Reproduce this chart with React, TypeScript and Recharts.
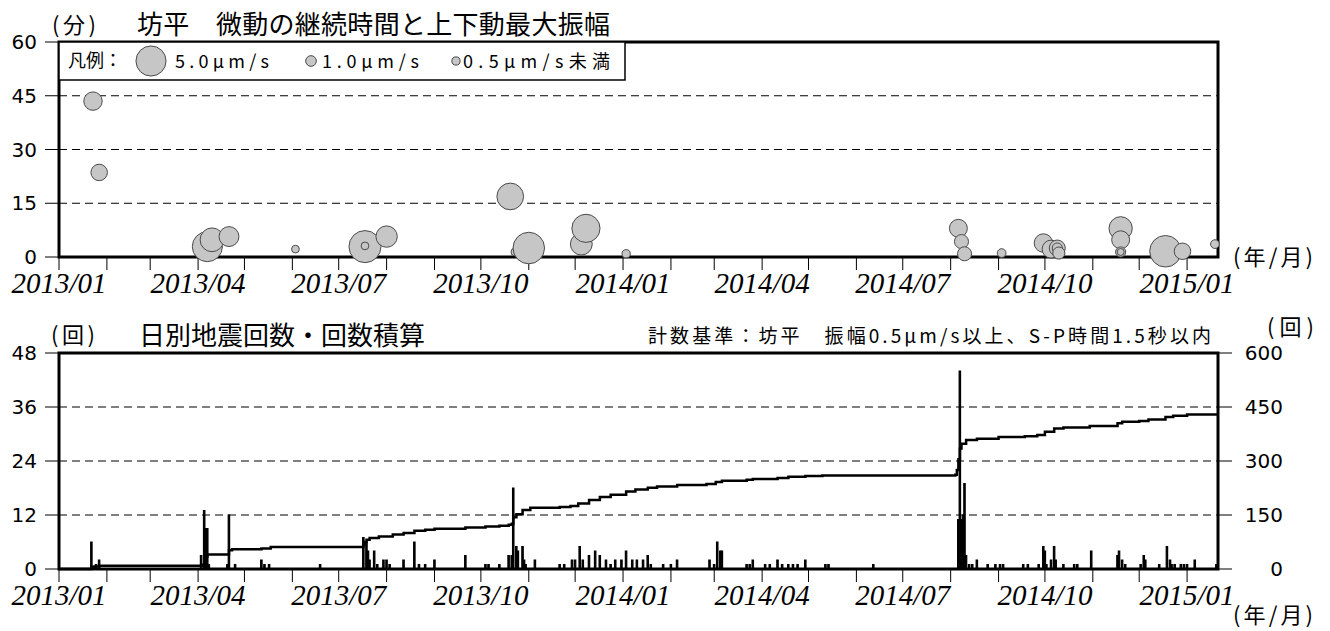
import React from 'react';
import {
  ScatterChart,
  Scatter,
  ComposedChart,
  Bar,
  Line,
  XAxis,
  YAxis,
  CartesianGrid,
  ReferenceArea,
} from 'recharts';

// ---------- axis labels ----------
const MONTH_LABELS = [
  '2013/01', '2013/02', '2013/03', '2013/04', '2013/05', '2013/06', '2013/07', '2013/08', '2013/09',
  '2013/10', '2013/11', '2013/12', '2014/01', '2014/02', '2014/03', '2014/04', '2014/05', '2014/06',
  '2014/07', '2014/08', '2014/09', '2014/10', '2014/11', '2014/12', '2015/01',
];
const LABELLED_MONTHS = ['01', '04', '07', '10'];
const X_START = '2013-01-01';
const X_END = '2015-01-21';
const DURATION_TICKS = [0, 15, 30, 45, 60];
const COUNT_TICKS = [0, 12, 24, 36, 48];
const CUM_TICKS = [0, 150, 300, 450, 600];

// ---------- tremor (top panel) ----------
const TREMOR_DATES = [
  '2013-01-23', '2013-01-27', '2013-04-07', '2013-04-10', '2013-04-21', '2013-06-03', '2013-07-18',
  '2013-07-18', '2013-08-01', '2013-10-20', '2013-10-23', '2013-11-01', '2013-12-05', '2013-12-08',
  '2014-01-03', '2014-08-06', '2014-08-08', '2014-08-10', '2014-09-03', '2014-09-30', '2014-10-05',
  '2014-10-09', '2014-10-09', '2014-10-10', '2014-11-19', '2014-11-19', '2014-11-19', '2014-11-19',
  '2014-12-18', '2014-12-29', '2015-01-19',
];
const TREMOR_MINUTES = [
  43.5, 23.6, 2.9, 4.8, 5.7, 2.2, 2.9,
  3.1, 5.7, 16.9, 1.4, 2.5, 3.6, 8.0,
  0.9, 8.0, 4.3, 0.9, 1.1, 3.9, 2.2,
  2.5, 2.5, 1.1, 8.0, 4.8, 1.4, 1.4,
  1.6, 1.6, 3.6,
];
const TREMOR_AMPLITUDES = [
  2.6, 2.2, 5.0, 3.7, 2.9, 0.4, 5.4,
  0.4, 3.2, 4.3, 0.4, 5.3, 3.3, 4.6,
  0.5, 2.5, 1.7, 1.7, 0.6, 2.6, 2.5,
  2.1, 0.9, 1.3, 3.6, 2.5, 0.9, 0.25,
  5.3, 2.2, 0.6,
];
const LEGEND_AMPLITUDES = [5.0, 1.0, 0.5];
const LEGEND_LABELS = ['5.0μm/s', '1.0μm/s', '0.5μm/s未満'];

// ---------- daily counts (bottom panel, bars) ----------
const COUNT_DATES = [
  '2013-01-22', '2013-01-25', '2013-01-27', '2013-04-03', '2013-04-05', '2013-04-06', '2013-04-07',
  '2013-04-08', '2013-04-20', '2013-04-21', '2013-04-25', '2013-05-12', '2013-05-14', '2013-05-17',
  '2013-06-19', '2013-07-17', '2013-07-19', '2013-07-20', '2013-07-21', '2013-07-24', '2013-07-26',
  '2013-07-30', '2013-08-01', '2013-08-03', '2013-08-12', '2013-08-19', '2013-08-22', '2013-08-26',
  '2013-09-01', '2013-09-21', '2013-10-04', '2013-10-06', '2013-10-13', '2013-10-19', '2013-10-21',
  '2013-10-22', '2013-10-24', '2013-10-25', '2013-10-28', '2013-10-29', '2013-10-30', '2013-11-05',
  '2013-11-21', '2013-11-24', '2013-11-29', '2013-12-01', '2013-12-04', '2013-12-06', '2013-12-10',
  '2013-12-14', '2013-12-17', '2013-12-21', '2013-12-24', '2013-12-27', '2013-12-31', '2014-01-03',
  '2014-01-07', '2014-01-10', '2014-01-14', '2014-01-17', '2014-01-19', '2014-01-27', '2014-02-01',
  '2014-02-05', '2014-02-26', '2014-03-01', '2014-03-03', '2014-03-05', '2014-03-06', '2014-03-22',
  '2014-03-24', '2014-03-26', '2014-04-03', '2014-04-06', '2014-04-11', '2014-04-14', '2014-04-18',
  '2014-04-21', '2014-04-24', '2014-04-29', '2014-05-12', '2014-05-14', '2014-06-12', '2014-08-06',
  '2014-08-07', '2014-08-08', '2014-08-09', '2014-08-10', '2014-08-11', '2014-08-13', '2014-08-15',
  '2014-08-18', '2014-08-25', '2014-08-30', '2014-09-02', '2014-09-04', '2014-09-17', '2014-09-20',
  '2014-09-27', '2014-09-30', '2014-10-01', '2014-10-02', '2014-10-05', '2014-10-07', '2014-10-08',
  '2014-10-13', '2014-10-20', '2014-10-22', '2014-10-31', '2014-11-17', '2014-11-18', '2014-11-20',
  '2014-11-22', '2014-12-02', '2014-12-04', '2014-12-05', '2014-12-14', '2014-12-19', '2014-12-21',
  '2014-12-22', '2014-12-24', '2014-12-28', '2014-12-30', '2015-01-01', '2015-01-06', '2015-01-20',
];
const COUNT_VALUES = [
  6, 1, 2, 3, 13, 9, 9,
  1, 1, 12, 1, 2, 1, 1,
  1, 7, 6, 4, 2, 4, 1,
  2, 2, 1, 2, 6, 1, 1,
  2, 3, 1, 1, 1, 3, 3,
  18, 5, 4, 5, 2, 1, 2,
  1, 1, 2, 2, 5, 2, 3,
  4, 3, 2, 1, 2, 2, 4,
  2, 2, 2, 3, 1, 1, 1,
  2, 2, 1, 6, 4, 4, 1,
  1, 2, 1, 1, 2, 1, 1,
  1, 1, 2, 1, 1, 1, 11,
  44, 11, 12, 19, 3, 1, 1,
  2, 1, 1, 1, 1, 1, 1,
  1, 5, 4, 1, 2, 5, 2,
  1, 1, 1, 4, 3, 4, 2,
  1, 1, 3, 2, 1, 5, 2,
  1, 1, 1, 1, 1, 2, 1,
];

// ---------- cumulative count (bottom panel, line) ----------
const CUM_DATES = [
  '2013-01-01', '2013-01-22', '2013-01-24', '2013-01-27', '2013-04-04', '2013-04-05', '2013-04-06',
  '2013-04-07', '2013-04-21', '2013-04-23', '2013-05-12', '2013-05-18', '2013-07-17', '2013-07-18',
  '2013-07-19', '2013-07-21', '2013-07-27', '2013-08-05', '2013-08-12', '2013-08-19', '2013-08-26',
  '2013-09-01', '2013-09-21', '2013-10-04', '2013-10-13', '2013-10-19', '2013-10-21', '2013-10-22',
  '2013-10-24', '2013-10-28', '2013-11-02', '2013-11-21', '2013-11-28', '2013-12-03', '2013-12-10',
  '2013-12-17', '2013-12-24', '2014-01-03', '2014-01-09', '2014-01-17', '2014-01-23', '2014-02-05',
  '2014-02-24', '2014-03-02', '2014-03-06', '2014-03-22', '2014-03-26', '2014-04-11', '2014-04-18',
  '2014-04-29', '2014-05-10', '2014-08-04', '2014-08-05', '2014-08-06', '2014-08-07', '2014-08-08',
  '2014-08-11', '2014-08-18', '2014-09-01', '2014-09-18', '2014-09-26', '2014-10-01', '2014-10-07',
  '2014-10-13', '2014-10-30', '2014-11-17', '2014-11-20', '2014-12-01', '2014-12-07', '2014-12-18',
  '2014-12-23', '2015-01-01', '2015-01-21',
];
const CUM_VALUES = [
  0, 6, 7, 9, 12, 25, 34,
  40, 52, 55, 57, 61, 68, 75,
  81, 86, 90, 96, 100, 106, 109,
  112, 115, 118, 120, 123, 126, 144,
  152, 164, 170, 172, 175, 182, 192,
  200, 206, 215, 221, 226, 229, 233,
  236, 242, 245, 248, 250, 253, 256,
  258, 260, 262, 275, 305, 335, 348,
  358, 362, 367, 369, 372, 381, 390,
  393, 397, 405, 409, 411, 415, 422,
  426, 429, 429,
];

// ---------- helpers ----------
const dayOf = (s: string) => {
  const [y, m, d] = s.split(/[-/]/).map(Number);
  return (Date.UTC(y, m - 1, d || 1) - Date.UTC(2013, 0, 1)) / 864e5;
};
const radiusOf = (amp: number) => 2.9 + 2.43 * amp;

const tremorData = TREMOR_DATES.map((d, i) => ({
  day: dayOf(d),
  minutes: TREMOR_MINUTES[i],
  amp: TREMOR_AMPLITUDES[i],
}));
const countData = COUNT_DATES.map((d, i) => ({ day: dayOf(d), count: COUNT_VALUES[i] }));
const cumData = CUM_DATES.map((d, i) => ({ day: dayOf(d), cum: CUM_VALUES[i] }));

const X_DOMAIN = [dayOf(X_START), dayOf(X_END)];
const MONTH_TICKS = MONTH_LABELS.map(dayOf);
const monthFormatter = (v: number) => {
  const i = MONTH_TICKS.indexOf(v);
  const lab = MONTH_LABELS[i];
  return lab && LABELLED_MONTHS.includes(lab.slice(5)) ? lab : '';
};

const JP = '"Noto Sans CJK JP", "Noto Sans", sans-serif';
const NUM_FONT = '"DejaVu Sans", sans-serif';
const BLACK = '#000';

const xTick = {
  fontFamily: '"Liberation Serif", "Times New Roman", serif',
  fontStyle: 'italic',
  fontSize: 29,
  fill: BLACK,
};
const yTick = { fontFamily: NUM_FONT, fontSize: 20, fill: BLACK };
const axisLine = { stroke: BLACK, strokeWidth: 2 };
const tickLine = { stroke: BLACK, strokeWidth: 1 };

const bubbleShape = (props: any) => {
  const { cx, cy, payload } = props;
  if (cx == null || cy == null) return <g />;
  return (
    <circle cx={cx} cy={cy} r={radiusOf(payload.amp)} fill="#c6c6c6" stroke="#4a4a4a" strokeWidth={1} />
  );
};

const RightTick = (props: any) => {
  const { x, y, payload } = props;
  return (
    <text x={x + 43} y={y} dy="0.355em" textAnchor="end" fontFamily={NUM_FONT} fontSize={20} fill={BLACK}>
      {payload.value}
    </text>
  );
};

function TopChart() {
  return (
    <ScatterChart width={1330} height={310} margin={{ top: 42, right: 112, bottom: 13, left: 9 }}>
      <CartesianGrid xAxisId="b" yAxisId="l" vertical={false} stroke={BLACK} strokeDasharray="8 5" />
      <XAxis
        xAxisId="b"
        dataKey="day"
        type="number"
        domain={X_DOMAIN}
        ticks={MONTH_TICKS}
        interval={0}
        tickFormatter={monthFormatter}
        tick={xTick}
        tickSize={13}
        tickMargin={2}
        stroke={BLACK}
        tickLine={tickLine}
        axisLine={axisLine}
        height={40}
      />
      <YAxis
        yAxisId="l"
        dataKey="minutes"
        type="number"
        domain={[0, 60]}
        ticks={DURATION_TICKS}
        interval={0}
        width={50}
        tickSize={14}
        tickMargin={8}
        stroke={BLACK}
        tick={yTick}
        tickLine={tickLine}
        axisLine={axisLine}
      />
      <ReferenceArea
        xAxisId="b"
        yAxisId="l"
        x1={X_DOMAIN[0]}
        x2={X_DOMAIN[1]}
        y1={0}
        y2={60}
        fill="none"
        fillOpacity={0}
        stroke={BLACK}
        strokeWidth={3}
        strokeOpacity={1}
        ifOverflow="visible"
      />
      <Scatter xAxisId="b" yAxisId="l" data={tremorData} shape={bubbleShape} isAnimationActive={false} />
    </ScatterChart>
  );
}

function BottomChart() {
  return (
    <ComposedChart width={1330} height={321} data={countData} margin={{ top: 43, right: 42, bottom: 22, left: 9 }}>
      <CartesianGrid xAxisId="b" yAxisId="l" vertical={false} stroke={BLACK} strokeDasharray="8 5" />
      <XAxis
        xAxisId="b"
        dataKey="day"
        type="number"
        domain={X_DOMAIN}
        ticks={MONTH_TICKS}
        interval={0}
        tickFormatter={monthFormatter}
        tick={xTick}
        tickSize={13}
        tickMargin={2}
        stroke={BLACK}
        tickLine={tickLine}
        axisLine={axisLine}
        height={40}
      />
      <YAxis
        yAxisId="l"
        type="number"
        domain={[0, 48]}
        ticks={COUNT_TICKS}
        interval={0}
        width={50}
        tickSize={14}
        tickMargin={8}
        stroke={BLACK}
        tick={yTick}
        tickLine={tickLine}
        axisLine={axisLine}
      />
      <YAxis
        yAxisId="r"
        orientation="right"
        type="number"
        domain={[0, 600]}
        ticks={CUM_TICKS}
        interval={0}
        width={70}
        tickSize={14}
        tickMargin={8}
        stroke={BLACK}
        tick={<RightTick />}
        tickLine={tickLine}
        axisLine={axisLine}
      />
      <ReferenceArea
        xAxisId="b"
        yAxisId="l"
        x1={X_DOMAIN[0]}
        x2={X_DOMAIN[1]}
        y1={0}
        y2={48}
        fill="none"
        fillOpacity={0}
        stroke={BLACK}
        strokeWidth={3}
        strokeOpacity={1}
        ifOverflow="visible"
      />
      <Bar
        xAxisId="b"
        yAxisId="l"
        dataKey="count"
        fill={BLACK}
        stroke={BLACK}
        strokeWidth={1.2}
        barSize={3}
        isAnimationActive={false}
      />
      <Line
        xAxisId="b"
        yAxisId="r"
        data={cumData}
        dataKey="cum"
        type="stepAfter"
        stroke={BLACK}
        strokeWidth={2.5}
        dot={false}
        isAnimationActive={false}
      />
    </ComposedChart>
  );
}

function Overlay() {
  const t = (x: number, y: number, size: number, len: number, s: string) => (
    <text x={x} y={y} fontSize={size} fontFamily={JP} fill={BLACK} textLength={len} lengthAdjust="spacing">
      {s}
    </text>
  );
  const legendCircleX = [151, 311, 456];
  const legendTextX = [175, 322, 463];
  const legendTextLen = [94, 97, 147];
  return (
    <svg width={1330} height={631} style={{ position: 'absolute', left: 0, top: 0, pointerEvents: 'none' }}>
      {t(52, 33, 22, 44, '(分)')}
      {t(137, 34, 26, 473, '坊平　微動の継続時間と上下動最大振幅')}
      <rect x={59} y={42} width={566} height={38} fill="#fff" stroke={BLACK} strokeWidth={1.5} />
      {t(68, 67, 18, 54, '凡例：')}
      {LEGEND_AMPLITUDES.map((a, i) => (
        <g key={i}>
          <circle cx={legendCircleX[i]} cy={61} r={radiusOf(a)} fill="#c6c6c6" stroke="#4a4a4a" strokeWidth={1} />
          {t(legendTextX[i], 68, 18, legendTextLen[i], LEGEND_LABELS[i])}
        </g>
      ))}
      {t(1233, 265, 22, 80, '(年/月)')}
      {t(51, 343, 22, 44, '(回)')}
      {t(139, 345, 26, 286, '日別地震回数・回数積算')}
      {t(648, 343, 19, 563, '計数基準：坊平　振幅0.5μm/s以上、S-P時間1.5秒以内')}
      {t(1267, 335, 22, 47, '(回)')}
      {t(1233, 623, 22, 80, '(年/月)')}
    </svg>
  );
}

export default function App() {
  return (
    <div style={{ position: 'absolute', left: 0, top: 0, width: 1330, height: 631, background: '#fff' }}>
      <div style={{ position: 'absolute', left: 0, top: 0 }}>
        <TopChart />
      </div>
      <div style={{ position: 'absolute', left: 0, top: 310 }}>
        <BottomChart />
      </div>
      <Overlay />
    </div>
  );
}
